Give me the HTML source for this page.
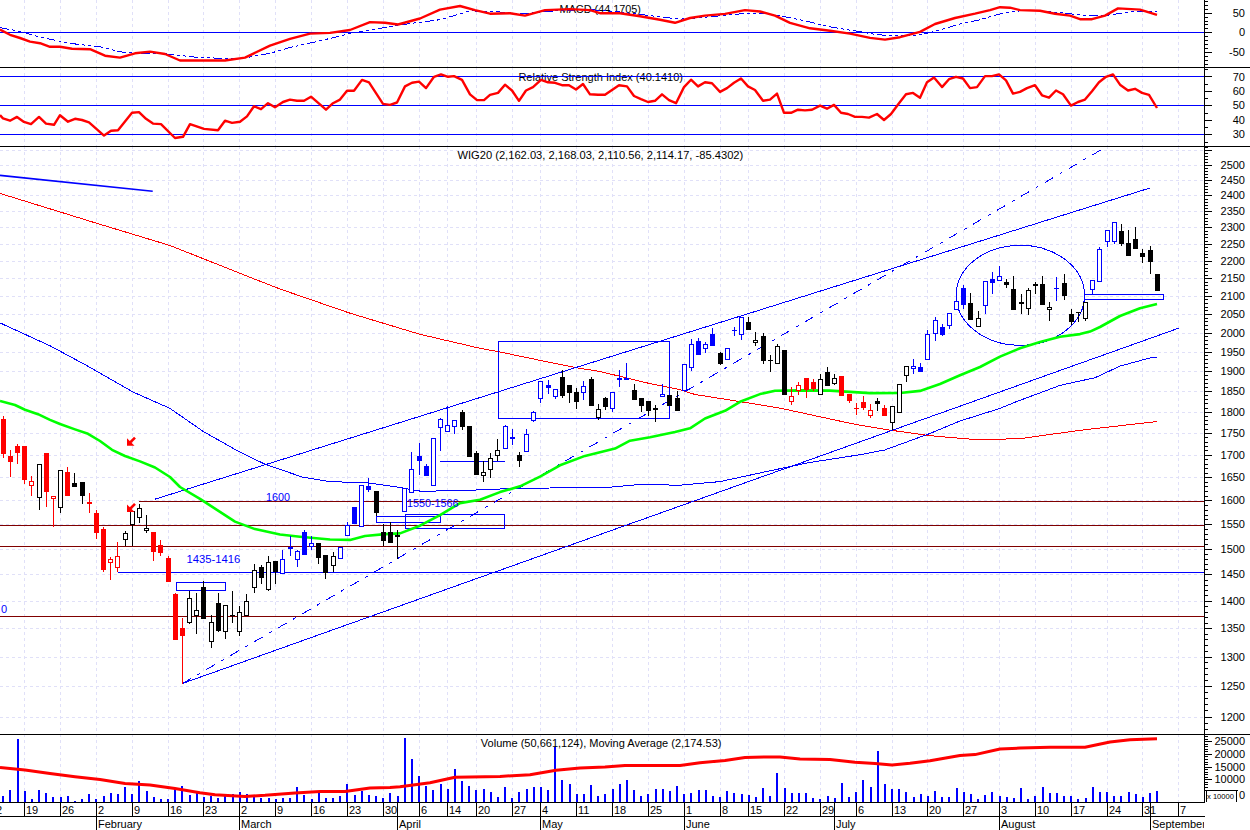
<!DOCTYPE html><html><head><meta charset="utf-8"><style>html,body{margin:0;padding:0;background:#fff;width:1250px;height:830px;overflow:hidden}svg{display:block}text{font-family:"Liberation Sans",sans-serif;font-size:11px;fill:#000}</style></head><body>
<svg width="1250" height="830" viewBox="0 0 1250 830">
<rect x="0" y="0" width="1250" height="830" fill="#fff"/>
<g shape-rendering="crispEdges" fill="none">
<path d="M24.5 0V67 M24.5 67V146 M24.5 146V734 M24.5 734V802 M60.5 0V67 M60.5 67V146 M60.5 146V734 M60.5 734V802 M96.5 0V67 M96.5 67V146 M96.5 146V734 M96.5 734V802 M132.5 0V67 M132.5 67V146 M132.5 146V734 M132.5 734V802 M168.5 0V67 M168.5 67V146 M168.5 146V734 M168.5 734V802 M203.5 0V67 M203.5 67V146 M203.5 146V734 M203.5 734V802 M239.5 0V67 M239.5 67V146 M239.5 146V734 M239.5 734V802 M275.5 0V67 M275.5 67V146 M275.5 146V734 M275.5 734V802 M311.5 0V67 M311.5 67V146 M311.5 146V734 M311.5 734V802 M347.5 0V67 M347.5 67V146 M347.5 146V734 M347.5 734V802 M383.5 0V67 M383.5 67V146 M383.5 146V734 M383.5 734V802 M419.5 0V67 M419.5 67V146 M419.5 146V734 M419.5 734V802 M447.5 0V67 M447.5 67V146 M447.5 146V734 M447.5 734V802 M476.5 0V67 M476.5 67V146 M476.5 146V734 M476.5 734V802 M512.5 0V67 M512.5 67V146 M512.5 146V734 M512.5 734V802 M540.5 0V67 M540.5 67V146 M540.5 146V734 M540.5 734V802 M576.5 0V67 M576.5 67V146 M576.5 146V734 M576.5 734V802 M612.5 0V67 M612.5 67V146 M612.5 146V734 M612.5 734V802 M648.5 0V67 M648.5 67V146 M648.5 146V734 M648.5 734V802 M684.5 0V67 M684.5 67V146 M684.5 146V734 M684.5 734V802 M720.5 0V67 M720.5 67V146 M720.5 146V734 M720.5 734V802 M748.5 0V67 M748.5 67V146 M748.5 146V734 M748.5 734V802 M784.5 0V67 M784.5 67V146 M784.5 146V734 M784.5 734V802 M820.5 0V67 M820.5 67V146 M820.5 146V734 M820.5 734V802 M856.5 0V67 M856.5 67V146 M856.5 146V734 M856.5 734V802 M892.5 0V67 M892.5 67V146 M892.5 146V734 M892.5 734V802 M927.5 0V67 M927.5 67V146 M927.5 146V734 M927.5 734V802 M963.5 0V67 M963.5 67V146 M963.5 146V734 M963.5 734V802 M999.5 0V67 M999.5 67V146 M999.5 146V734 M999.5 734V802 M1035.5 0V67 M1035.5 67V146 M1035.5 146V734 M1035.5 734V802 M1071.5 0V67 M1071.5 67V146 M1071.5 146V734 M1071.5 734V802 M1107.5 0V67 M1107.5 67V146 M1107.5 146V734 M1107.5 734V802 M1142.5 0V67 M1142.5 67V146 M1142.5 146V734 M1142.5 734V802 M1178.5 0V67 M1178.5 67V146 M1178.5 146V734 M1178.5 734V802" stroke="#e0e0f8" stroke-width="1" stroke-dasharray="3,3"/>
<path d="M0 717.5H1204 M0 686.5H1204 M0 657.5H1204 M0 628.5H1204 M0 601.5H1204 M0 574.5H1204 M0 549.5H1204 M0 524.5H1204 M0 500.5H1204 M0 477.5H1204 M0 455.5H1204 M0 433.5H1204 M0 412.5H1204 M0 391.5H1204 M0 371.5H1204 M0 352.5H1204 M0 333.5H1204 M0 314.5H1204 M0 296.5H1204 M0 278.5H1204 M0 261.5H1204 M0 244.5H1204 M0 227.5H1204 M0 211.5H1204 M0 195.5H1204 M0 180.5H1204 M0 165.5H1204 M0 150.5H1204" stroke="#e0e0f8" stroke-width="1" stroke-dasharray="3,3"/>
</g>
<text x="559.6" y="13" textLength="81.4" lengthAdjust="spacingAndGlyphs">MACD (44.1705)</text>
<text x="518.4" y="80.5" textLength="164.6" lengthAdjust="spacingAndGlyphs">Relative Strength Index (40.1410)</text>
<text x="457.4" y="159" textLength="285.9" lengthAdjust="spacingAndGlyphs">WIG20 (2,162.03, 2,168.03, 2,110.56, 2,114.17, -85.4302)</text>
<text x="480.8" y="747" textLength="240.7" lengthAdjust="spacingAndGlyphs">Volume (50,661,124), Moving Average (2,174.53)</text>
<path d="M0 32.5H1204" stroke="#0000ff" stroke-width="1" fill="none" shape-rendering="crispEdges"/>
<polyline points="0.0,27.6 22.0,31.8 33.0,35.4 48.0,38.8 72.0,43.6 100.0,46.8 125.0,52.8 160.0,53.3 200.0,57.6 240.0,58.8 270.0,53.3 290.0,47.5 320.0,40.8 350.0,33.6 380.0,28.3 410.0,23.5 440.0,19.7 460.0,13.9 470.0,10.8 500.0,12.0 520.0,13.9 545.0,11.5 570.0,10.1 590.0,9.6 620.0,12.0 650.0,15.6 680.0,19.2 710.0,16.8 740.0,13.9 770.0,13.9 800.0,19.7 830.0,26.9 860.0,31.7 870.0,33.6 890.0,36.0 905.0,35.5 920.0,34.8 940.0,30.0 960.0,24.0 980.0,19.7 1000.0,13.9 1020.0,10.8 1040.0,10.8 1060.0,12.5 1085.0,15.6 1105.0,15.6 1130.0,12.0 1157.0,11.5" fill="none" stroke="#0000ff" stroke-width="1" stroke-dasharray="9,3,3,3,3,3" shape-rendering="crispEdges"/>
<polyline points="0.0,29.6 10.0,34.8 20.0,38.0 30.0,41.6 40.0,43.2 50.0,46.8 60.0,46.8 72.0,48.7 90.0,49.2 105.0,55.7 120.0,57.6 135.0,53.3 150.0,51.6 165.0,54.0 180.0,60.5 225.0,60.5 245.0,57.6 270.0,45.6 290.0,38.9 310.0,33.6 330.0,32.9 350.0,30.0 370.0,22.1 385.0,22.8 398.0,24.5 420.0,18.5 440.0,9.6 460.0,6.0 475.0,10.1 490.0,13.7 510.0,13.2 525.0,15.6 545.0,10.1 570.0,9.1 590.0,10.1 600.0,13.2 620.0,13.2 640.0,16.3 660.0,19.7 675.0,22.8 690.0,18.0 705.0,15.6 725.0,13.9 745.0,10.1 760.0,11.5 775.0,15.6 790.0,22.8 810.0,28.3 830.0,30.7 850.0,33.6 870.0,37.9 885.0,39.6 900.0,37.2 920.0,31.9 935.0,24.0 955.0,18.0 975.0,13.7 990.0,10.1 1000.0,7.2 1010.0,7.7 1020.0,10.1 1040.0,10.8 1055.0,13.7 1070.0,15.6 1080.0,19.2 1092.0,19.2 1105.0,15.6 1118.0,8.4 1140.0,9.6 1157.0,14.9" fill="none" stroke="#ff0000" stroke-width="2.4" stroke-linejoin="round"/>
<path d="M0 76.5H1204M0 105.5H1204M0 134.5H1204" stroke="#0000ff" stroke-width="1" fill="none" shape-rendering="crispEdges"/>
<polyline points="0.0,115.2 3.0,118.3 10.0,120.7 17.0,116.9 24.0,121.9 31.0,124.1 39.0,116.9 46.0,123.6 54.0,124.8 60.0,115.2 68.0,121.7 75.0,118.8 82.0,120.0 89.0,122.4 104.0,135.6 111.0,130.8 118.0,130.3 132.0,112.8 139.0,112.1 146.0,118.8 153.0,123.6 161.0,124.1 175.0,138.0 183.0,136.8 190.0,124.1 204.0,128.9 218.0,130.3 225.0,120.7 232.0,122.9 240.0,121.7 247.0,116.4 254.0,106.3 261.0,109.2 268.0,103.2 275.0,107.3 283.0,102.0 290.0,99.6 297.0,100.8 304.0,100.8 311.0,96.7 326.0,109.7 333.0,103.2 340.0,99.6 347.0,90.7 354.0,90.7 362.0,79.9 369.0,82.3 383.0,103.9 390.0,104.9 397.0,102.5 405.0,86.4 412.0,82.8 419.0,81.6 426.0,88.1 434.0,76.8 441.0,74.4 448.0,76.8 454.0,76.1 462.0,79.9 470.0,94.3 477.0,100.1 484.0,100.1 490.0,94.8 498.0,92.9 505.0,84.7 512.0,90.5 519.0,100.8 526.0,90.5 533.0,87.1 541.0,79.9 548.0,82.3 555.0,82.8 562.0,85.2 569.0,85.2 576.0,89.5 583.0,84.0 590.0,94.3 598.0,94.8 605.0,94.8 612.0,90.0 619.0,85.2 627.0,86.4 634.0,96.0 641.0,99.1 648.0,102.0 655.0,100.8 662.0,94.3 669.0,100.1 676.0,103.2 684.0,87.1 691.0,79.7 698.0,86.4 705.0,82.3 712.0,83.3 720.0,91.9 727.0,88.1 734.0,82.8 741.0,78.5 748.0,86.4 755.0,90.0 763.0,100.8 770.0,99.6 777.0,93.6 784.0,112.8 791.0,112.8 798.0,109.7 805.0,110.4 812.0,109.7 820.0,105.6 827.0,108.7 834.0,104.9 841.0,112.8 848.0,114.0 855.0,116.9 862.0,116.9 869.0,117.6 877.0,114.0 884.0,120.0 891.0,114.0 899.0,103.2 906.0,94.3 913.0,92.9 920.0,97.7 927.0,82.3 934.0,77.5 942.0,87.1 949.0,79.2 956.0,76.8 963.0,78.5 970.0,88.1 977.0,87.1 985.0,76.1 992.0,76.1 999.0,74.4 1006.0,80.4 1013.0,93.6 1020.0,91.9 1027.0,88.1 1035.0,85.2 1042.0,95.3 1049.0,97.7 1056.0,90.5 1063.0,94.3 1071.0,105.6 1078.0,102.0 1085.0,99.6 1092.0,91.2 1099.0,82.3 1106.0,76.8 1113.0,74.4 1120.0,84.7 1128.0,90.5 1135.0,88.8 1142.0,92.9 1149.0,94.8 1157.0,108.0" fill="none" stroke="#ff0000" stroke-width="2.4" stroke-linejoin="round"/>
<path d="M139 501.5H1204M0 525.5H1204M0 546.5H1204M0 616.5H1204" stroke="#800000" stroke-width="1" fill="none" shape-rendering="crispEdges"/>
<path d="M118 572.5H1204" stroke="#0000ff" stroke-width="1" fill="none" shape-rendering="crispEdges"/>
<polyline points="0.0,193.4 100.0,224.3 170.0,245.5 200.0,257.4 250.0,277.3 280.0,289.0 350.0,313.2 420.0,334.3 480.0,348.3 497.0,351.4 560.0,364.5 578.0,368.0 600.0,371.5 650.0,383.6 680.0,389.6 695.0,394.5 730.0,400.0 780.0,408.1 850.0,423.3 860.0,425.2 890.0,430.1 930.0,435.7 970.0,439.1 990.0,439.6 1022.0,438.4 1080.0,430.3 1157.0,421.5" fill="none" stroke="#ff0000" stroke-width="1" shape-rendering="crispEdges"/>
<polyline points="0.0,322.9 50.0,345.8 85.0,364.6 133.0,392.0 170.0,408.4 203.0,431.3 235.0,449.4 265.0,464.3 302.8,477.2 330.0,481.6 368.0,482.9 400.0,487.5 420.0,491.1 455.0,490.9 500.0,489.0 550.0,488.0 605.0,487.6 640.0,484.5 680.0,485.2 720.0,481.6 770.0,470.8 810.0,462.4 860.0,454.7 884.7,450.0 930.0,433.5 960.0,421.0 1000.0,408.4 1015.0,402.2 1060.0,385.4 1095.0,377.7 1120.0,366.1 1150.0,357.9 1157.0,357.5" fill="none" stroke="#0000ff" stroke-width="1" shape-rendering="crispEdges"/>
<polyline points="0,175.4 152.7,191.3" fill="none" stroke="#0000ff" stroke-width="1.6"/>
<line x1="154.6" y1="499.3" x2="1149.6" y2="188.1" stroke="#0000ff" stroke-width="1" shape-rendering="crispEdges"/>
<line x1="182.4" y1="683.5" x2="1178.6" y2="328.2" stroke="#0000ff" stroke-width="1" shape-rendering="crispEdges"/>
<line x1="182.4" y1="683.5" x2="1106" y2="147" stroke="#0000ff" stroke-width="1" stroke-dasharray="9.7,7.7,3,7.3" shape-rendering="crispEdges"/>
<line x1="440" y1="461.5" x2="505" y2="461.5" stroke="#0000ff" stroke-width="1" shape-rendering="crispEdges"/>
<g fill="none" stroke="#0000ff" stroke-width="1" shape-rendering="crispEdges">
<rect x="498.5" y="341.5" width="171" height="77"/>
<rect x="176.5" y="582.5" width="49" height="8"/>
<rect x="376.5" y="516.5" width="64" height="6"/>
<rect x="405.5" y="514.5" width="99" height="14"/>
<rect x="1084.5" y="294.5" width="79" height="5"/>
<ellipse cx="1020.3" cy="295.3" rx="64.2" ry="50"/>
</g>
<polyline points="0.0,400.9 15.0,405.0 25.0,409.7 38.0,414.2 50.0,419.9 60.0,424.0 75.0,429.4 88.0,433.8 100.0,441.0 112.0,449.8 125.0,456.0 140.0,461.4 155.0,467.5 170.0,477.0 180.0,487.0 200.0,498.9 215.0,508.6 235.0,521.6 255.0,529.1 280.0,534.5 300.0,536.7 330.0,539.5 350.0,539.9 365.0,536.0 385.0,534.1 400.0,533.4 420.0,525.7 440.0,515.1 460.0,503.1 480.0,499.8 500.0,492.1 520.0,486.3 540.0,476.7 560.0,465.3 585.0,455.9 615.0,448.6 630.0,440.7 650.0,437.2 675.0,432.0 690.0,428.3 705.0,418.5 725.0,410.8 740.0,401.8 760.0,394.1 775.0,390.8 800.0,390.4 830.0,390.6 870.0,393.1 900.0,393.0 920.0,390.9 940.0,384.0 960.0,375.3 980.0,367.0 1000.0,356.6 1020.0,348.2 1040.0,342.0 1060.0,336.8 1080.0,334.1 1090.0,331.6 1100.0,327.0 1120.0,316.0 1140.0,308.3 1157.0,304.1" fill="none" stroke="#00ff00" stroke-width="2.6" stroke-linejoin="round"/>
<g shape-rendering="crispEdges">
<rect x="3" y="416" width="1" height="42" fill="#ff0000"/>
<rect x="1" y="419" width="5" height="35" fill="#ff0000"/>
<rect x="10" y="450" width="1" height="27" fill="#ff0000"/>
<rect x="8" y="456" width="5" height="6" fill="#ff0000"/>
<rect x="17" y="444" width="1" height="20" fill="#ff0000"/>
<rect x="15" y="446" width="5" height="7" fill="#ff0000"/>
<rect x="24" y="446" width="1" height="38" fill="#ff0000"/>
<rect x="22" y="446" width="5" height="34" fill="#ff0000"/>
<rect x="31" y="476" width="1" height="20" fill="#ff0000"/>
<rect x="29" y="481" width="5" height="5" fill="#ff0000"/>
<rect x="30" y="482" width="3" height="3" fill="#fff"/>
<rect x="39" y="464" width="1" height="46" fill="#000000"/>
<rect x="37" y="464" width="5" height="34" fill="#000000"/>
<rect x="38" y="465" width="3" height="32" fill="#fff"/>
<rect x="46" y="453" width="1" height="54" fill="#ff0000"/>
<rect x="44" y="453" width="5" height="39" fill="#ff0000"/>
<rect x="53" y="496" width="1" height="31" fill="#ff0000"/>
<rect x="51" y="496" width="5" height="3" fill="#ff0000"/>
<rect x="52" y="497" width="3" height="1" fill="#fff"/>
<rect x="60" y="470" width="1" height="43" fill="#000000"/>
<rect x="58" y="470" width="5" height="38" fill="#000000"/>
<rect x="59" y="471" width="3" height="36" fill="#fff"/>
<rect x="67" y="467" width="1" height="29" fill="#ff0000"/>
<rect x="65" y="472" width="5" height="24" fill="#ff0000"/>
<rect x="74" y="473" width="1" height="14" fill="#000000"/>
<rect x="72" y="483" width="5" height="4" fill="#000000"/>
<rect x="82" y="482" width="1" height="22" fill="#000000"/>
<rect x="80" y="482" width="5" height="14" fill="#000000"/>
<rect x="89" y="493" width="1" height="20" fill="#ff0000"/>
<rect x="87" y="502" width="5" height="2" fill="#ff0000"/>
<rect x="96" y="510" width="1" height="29" fill="#ff0000"/>
<rect x="94" y="513" width="5" height="20" fill="#ff0000"/>
<rect x="103" y="527" width="1" height="45" fill="#ff0000"/>
<rect x="101" y="529" width="5" height="41" fill="#ff0000"/>
<rect x="110" y="557" width="1" height="23" fill="#ff0000"/>
<rect x="108" y="559" width="5" height="4" fill="#ff0000"/>
<rect x="109" y="560" width="3" height="2" fill="#fff"/>
<rect x="117" y="542" width="1" height="30" fill="#ff0000"/>
<rect x="115" y="556" width="5" height="12" fill="#ff0000"/>
<rect x="116" y="557" width="3" height="10" fill="#fff"/>
<rect x="125" y="531" width="1" height="15" fill="#000000"/>
<rect x="123" y="533" width="5" height="7" fill="#000000"/>
<rect x="124" y="534" width="3" height="5" fill="#fff"/>
<rect x="132" y="511" width="1" height="35" fill="#000000"/>
<rect x="130" y="511" width="5" height="14" fill="#000000"/>
<rect x="131" y="512" width="3" height="12" fill="#fff"/>
<rect x="139" y="504" width="1" height="19" fill="#000000"/>
<rect x="137" y="508" width="5" height="10" fill="#000000"/>
<rect x="138" y="509" width="3" height="8" fill="#fff"/>
<rect x="146" y="515" width="1" height="18" fill="#000000"/>
<rect x="144" y="528" width="5" height="3" fill="#000000"/>
<rect x="145" y="529" width="3" height="1" fill="#fff"/>
<rect x="153" y="532" width="1" height="29" fill="#ff0000"/>
<rect x="151" y="532" width="5" height="20" fill="#ff0000"/>
<rect x="160" y="540" width="1" height="16" fill="#ff0000"/>
<rect x="158" y="545" width="5" height="8" fill="#ff0000"/>
<rect x="168" y="556" width="1" height="26" fill="#ff0000"/>
<rect x="166" y="558" width="5" height="24" fill="#ff0000"/>
<rect x="175" y="593" width="1" height="47" fill="#ff0000"/>
<rect x="173" y="594" width="5" height="46" fill="#ff0000"/>
<rect x="182" y="618" width="1" height="66" fill="#ff0000"/>
<rect x="180" y="628" width="5" height="8" fill="#ff0000"/>
<rect x="189" y="591" width="1" height="33" fill="#000000"/>
<rect x="187" y="598" width="5" height="25" fill="#000000"/>
<rect x="188" y="599" width="3" height="23" fill="#fff"/>
<rect x="196" y="593" width="1" height="41" fill="#000000"/>
<rect x="194" y="610" width="5" height="6" fill="#000000"/>
<rect x="195" y="611" width="3" height="4" fill="#fff"/>
<rect x="203" y="581" width="1" height="38" fill="#000000"/>
<rect x="201" y="587" width="5" height="32" fill="#000000"/>
<rect x="211" y="615" width="1" height="33" fill="#000000"/>
<rect x="209" y="622" width="5" height="20" fill="#000000"/>
<rect x="210" y="623" width="3" height="18" fill="#fff"/>
<rect x="218" y="593" width="1" height="39" fill="#000000"/>
<rect x="216" y="603" width="5" height="28" fill="#000000"/>
<rect x="225" y="605" width="1" height="34" fill="#000000"/>
<rect x="223" y="605" width="5" height="27" fill="#000000"/>
<rect x="224" y="606" width="3" height="25" fill="#fff"/>
<rect x="232" y="591" width="1" height="32" fill="#000000"/>
<rect x="230" y="615" width="5" height="1" fill="#000000"/>
<rect x="239" y="606" width="1" height="30" fill="#000000"/>
<rect x="237" y="612" width="5" height="20" fill="#000000"/>
<rect x="238" y="613" width="3" height="18" fill="#fff"/>
<rect x="246" y="594" width="1" height="22" fill="#000000"/>
<rect x="244" y="601" width="5" height="15" fill="#000000"/>
<rect x="245" y="602" width="3" height="13" fill="#fff"/>
<rect x="254" y="564" width="1" height="29" fill="#000000"/>
<rect x="252" y="570" width="5" height="18" fill="#000000"/>
<rect x="253" y="571" width="3" height="16" fill="#fff"/>
<rect x="261" y="565" width="1" height="19" fill="#000000"/>
<rect x="259" y="567" width="5" height="11" fill="#000000"/>
<rect x="268" y="556" width="1" height="35" fill="#000000"/>
<rect x="266" y="562" width="5" height="28" fill="#000000"/>
<rect x="267" y="563" width="3" height="26" fill="#fff"/>
<rect x="275" y="561" width="1" height="23" fill="#000000"/>
<rect x="273" y="561" width="5" height="11" fill="#000000"/>
<rect x="282" y="550" width="1" height="24" fill="#0000ff"/>
<rect x="280" y="559" width="5" height="15" fill="#0000ff"/>
<rect x="281" y="560" width="3" height="13" fill="#fff"/>
<rect x="290" y="536" width="1" height="20" fill="#0000ff"/>
<rect x="288" y="547" width="5" height="2" fill="#0000ff"/>
<rect x="297" y="550" width="1" height="17" fill="#0000ff"/>
<rect x="295" y="551" width="5" height="9" fill="#0000ff"/>
<rect x="296" y="552" width="3" height="7" fill="#fff"/>
<rect x="304" y="530" width="1" height="25" fill="#0000ff"/>
<rect x="302" y="532" width="5" height="23" fill="#0000ff"/>
<rect x="311" y="536" width="1" height="14" fill="#0000ff"/>
<rect x="309" y="543" width="5" height="4" fill="#0000ff"/>
<rect x="310" y="544" width="3" height="2" fill="#fff"/>
<rect x="318" y="543" width="1" height="21" fill="#000000"/>
<rect x="316" y="543" width="5" height="15" fill="#000000"/>
<rect x="325" y="555" width="1" height="24" fill="#000000"/>
<rect x="323" y="555" width="5" height="18" fill="#000000"/>
<rect x="333" y="552" width="1" height="20" fill="#000000"/>
<rect x="331" y="556" width="5" height="10" fill="#000000"/>
<rect x="332" y="557" width="3" height="8" fill="#fff"/>
<rect x="340" y="547" width="1" height="12" fill="#0000ff"/>
<rect x="338" y="547" width="5" height="12" fill="#0000ff"/>
<rect x="339" y="548" width="3" height="10" fill="#fff"/>
<rect x="347" y="522" width="1" height="14" fill="#0000ff"/>
<rect x="345" y="525" width="5" height="11" fill="#0000ff"/>
<rect x="346" y="526" width="3" height="9" fill="#fff"/>
<rect x="354" y="507" width="1" height="17" fill="#0000ff"/>
<rect x="352" y="507" width="5" height="17" fill="#0000ff"/>
<rect x="361" y="485" width="1" height="42" fill="#0000ff"/>
<rect x="359" y="485" width="5" height="42" fill="#0000ff"/>
<rect x="360" y="486" width="3" height="40" fill="#fff"/>
<rect x="368" y="478" width="1" height="14" fill="#0000ff"/>
<rect x="366" y="486" width="5" height="4" fill="#0000ff"/>
<rect x="376" y="491" width="1" height="25" fill="#000000"/>
<rect x="374" y="491" width="5" height="22" fill="#000000"/>
<rect x="383" y="524" width="1" height="22" fill="#000000"/>
<rect x="381" y="532" width="5" height="9" fill="#000000"/>
<rect x="390" y="522" width="1" height="21" fill="#000000"/>
<rect x="388" y="532" width="5" height="11" fill="#000000"/>
<rect x="397" y="530" width="1" height="29" fill="#000000"/>
<rect x="395" y="535" width="5" height="2" fill="#000000"/>
<rect x="404" y="488" width="1" height="24" fill="#0000ff"/>
<rect x="402" y="488" width="5" height="24" fill="#0000ff"/>
<rect x="403" y="489" width="3" height="22" fill="#fff"/>
<rect x="411" y="452" width="1" height="41" fill="#0000ff"/>
<rect x="409" y="469" width="5" height="24" fill="#0000ff"/>
<rect x="410" y="470" width="3" height="22" fill="#fff"/>
<rect x="419" y="443" width="1" height="32" fill="#0000ff"/>
<rect x="417" y="456" width="5" height="5" fill="#0000ff"/>
<rect x="426" y="464" width="1" height="12" fill="#0000ff"/>
<rect x="424" y="466" width="5" height="10" fill="#0000ff"/>
<rect x="433" y="438" width="1" height="48" fill="#0000ff"/>
<rect x="431" y="438" width="5" height="48" fill="#0000ff"/>
<rect x="432" y="439" width="3" height="46" fill="#fff"/>
<rect x="440" y="418" width="1" height="33" fill="#0000ff"/>
<rect x="438" y="419" width="5" height="9" fill="#0000ff"/>
<rect x="439" y="420" width="3" height="7" fill="#fff"/>
<rect x="447" y="406" width="1" height="26" fill="#0000ff"/>
<rect x="445" y="425" width="5" height="7" fill="#0000ff"/>
<rect x="446" y="426" width="3" height="5" fill="#fff"/>
<rect x="454" y="420" width="1" height="14" fill="#0000ff"/>
<rect x="452" y="420" width="5" height="7" fill="#0000ff"/>
<rect x="453" y="421" width="3" height="5" fill="#fff"/>
<rect x="462" y="410" width="1" height="20" fill="#000000"/>
<rect x="460" y="412" width="5" height="15" fill="#000000"/>
<rect x="469" y="426" width="1" height="31" fill="#000000"/>
<rect x="467" y="426" width="5" height="31" fill="#000000"/>
<rect x="476" y="451" width="1" height="24" fill="#000000"/>
<rect x="474" y="453" width="5" height="22" fill="#000000"/>
<rect x="483" y="461" width="1" height="21" fill="#000000"/>
<rect x="481" y="472" width="5" height="4" fill="#000000"/>
<rect x="482" y="473" width="3" height="2" fill="#fff"/>
<rect x="490" y="453" width="1" height="25" fill="#000000"/>
<rect x="488" y="458" width="5" height="12" fill="#000000"/>
<rect x="489" y="459" width="3" height="10" fill="#fff"/>
<rect x="497" y="439" width="1" height="22" fill="#000000"/>
<rect x="495" y="450" width="5" height="6" fill="#000000"/>
<rect x="496" y="451" width="3" height="4" fill="#fff"/>
<rect x="505" y="425" width="1" height="24" fill="#0000ff"/>
<rect x="503" y="426" width="5" height="23" fill="#0000ff"/>
<rect x="504" y="427" width="3" height="21" fill="#fff"/>
<rect x="512" y="429" width="1" height="16" fill="#0000ff"/>
<rect x="510" y="437" width="5" height="2" fill="#0000ff"/>
<rect x="519" y="452" width="1" height="15" fill="#000000"/>
<rect x="517" y="455" width="5" height="6" fill="#000000"/>
<rect x="526" y="429" width="1" height="23" fill="#0000ff"/>
<rect x="524" y="434" width="5" height="18" fill="#0000ff"/>
<rect x="525" y="435" width="3" height="16" fill="#fff"/>
<rect x="533" y="411" width="1" height="11" fill="#0000ff"/>
<rect x="531" y="412" width="5" height="9" fill="#0000ff"/>
<rect x="532" y="413" width="3" height="7" fill="#fff"/>
<rect x="540" y="381" width="1" height="22" fill="#0000ff"/>
<rect x="538" y="381" width="5" height="18" fill="#0000ff"/>
<rect x="539" y="382" width="3" height="16" fill="#fff"/>
<rect x="548" y="380" width="1" height="14" fill="#0000ff"/>
<rect x="546" y="385" width="5" height="3" fill="#0000ff"/>
<rect x="555" y="389" width="1" height="10" fill="#0000ff"/>
<rect x="553" y="389" width="5" height="8" fill="#0000ff"/>
<rect x="554" y="390" width="3" height="6" fill="#fff"/>
<rect x="562" y="370" width="1" height="28" fill="#000000"/>
<rect x="560" y="377" width="5" height="19" fill="#000000"/>
<rect x="569" y="385" width="1" height="18" fill="#000000"/>
<rect x="567" y="385" width="5" height="8" fill="#000000"/>
<rect x="576" y="388" width="1" height="21" fill="#000000"/>
<rect x="574" y="392" width="5" height="10" fill="#000000"/>
<rect x="583" y="381" width="1" height="19" fill="#0000ff"/>
<rect x="581" y="386" width="5" height="7" fill="#0000ff"/>
<rect x="582" y="387" width="3" height="5" fill="#fff"/>
<rect x="591" y="377" width="1" height="29" fill="#000000"/>
<rect x="589" y="379" width="5" height="27" fill="#000000"/>
<rect x="598" y="404" width="1" height="16" fill="#000000"/>
<rect x="596" y="409" width="5" height="9" fill="#000000"/>
<rect x="597" y="410" width="3" height="7" fill="#fff"/>
<rect x="605" y="397" width="1" height="13" fill="#000000"/>
<rect x="603" y="398" width="5" height="9" fill="#000000"/>
<rect x="612" y="392" width="1" height="20" fill="#0000ff"/>
<rect x="610" y="392" width="5" height="17" fill="#0000ff"/>
<rect x="611" y="393" width="3" height="15" fill="#fff"/>
<rect x="619" y="370" width="1" height="17" fill="#0000ff"/>
<rect x="617" y="378" width="5" height="2" fill="#0000ff"/>
<rect x="626" y="363" width="1" height="17" fill="#0000ff"/>
<rect x="624" y="378" width="5" height="2" fill="#0000ff"/>
<rect x="634" y="384" width="1" height="16" fill="#000000"/>
<rect x="632" y="390" width="5" height="10" fill="#000000"/>
<rect x="641" y="398" width="1" height="14" fill="#000000"/>
<rect x="639" y="398" width="5" height="8" fill="#000000"/>
<rect x="648" y="401" width="1" height="15" fill="#000000"/>
<rect x="646" y="401" width="5" height="10" fill="#000000"/>
<rect x="655" y="405" width="1" height="17" fill="#000000"/>
<rect x="653" y="408" width="5" height="2" fill="#000000"/>
<rect x="662" y="384" width="1" height="13" fill="#0000ff"/>
<rect x="660" y="394" width="5" height="3" fill="#0000ff"/>
<rect x="661" y="395" width="3" height="1" fill="#fff"/>
<rect x="669" y="395" width="1" height="11" fill="#000000"/>
<rect x="667" y="395" width="5" height="11" fill="#000000"/>
<rect x="677" y="391" width="1" height="20" fill="#000000"/>
<rect x="675" y="398" width="5" height="13" fill="#000000"/>
<rect x="684" y="364" width="1" height="27" fill="#0000ff"/>
<rect x="682" y="364" width="5" height="27" fill="#0000ff"/>
<rect x="683" y="365" width="3" height="25" fill="#fff"/>
<rect x="691" y="339" width="1" height="32" fill="#0000ff"/>
<rect x="689" y="344" width="5" height="24" fill="#0000ff"/>
<rect x="690" y="345" width="3" height="22" fill="#fff"/>
<rect x="698" y="338" width="1" height="17" fill="#0000ff"/>
<rect x="696" y="341" width="5" height="14" fill="#0000ff"/>
<rect x="705" y="342" width="1" height="11" fill="#0000ff"/>
<rect x="703" y="344" width="5" height="5" fill="#0000ff"/>
<rect x="704" y="345" width="3" height="3" fill="#fff"/>
<rect x="712" y="328" width="1" height="18" fill="#0000ff"/>
<rect x="710" y="334" width="5" height="12" fill="#0000ff"/>
<rect x="720" y="352" width="1" height="13" fill="#000000"/>
<rect x="718" y="353" width="5" height="11" fill="#000000"/>
<rect x="727" y="348" width="1" height="12" fill="#0000ff"/>
<rect x="725" y="348" width="5" height="12" fill="#0000ff"/>
<rect x="726" y="349" width="3" height="10" fill="#fff"/>
<rect x="734" y="327" width="1" height="9" fill="#0000ff"/>
<rect x="732" y="330" width="5" height="1" fill="#0000ff"/>
<rect x="741" y="317" width="1" height="23" fill="#0000ff"/>
<rect x="739" y="317" width="5" height="18" fill="#0000ff"/>
<rect x="740" y="318" width="3" height="16" fill="#fff"/>
<rect x="748" y="317" width="1" height="13" fill="#000000"/>
<rect x="746" y="322" width="5" height="8" fill="#000000"/>
<rect x="755" y="332" width="1" height="14" fill="#000000"/>
<rect x="753" y="340" width="5" height="3" fill="#000000"/>
<rect x="754" y="341" width="3" height="1" fill="#fff"/>
<rect x="763" y="333" width="1" height="31" fill="#000000"/>
<rect x="761" y="336" width="5" height="25" fill="#000000"/>
<rect x="770" y="355" width="1" height="17" fill="#000000"/>
<rect x="768" y="360" width="5" height="1" fill="#000000"/>
<rect x="777" y="344" width="1" height="20" fill="#000000"/>
<rect x="775" y="346" width="5" height="18" fill="#000000"/>
<rect x="776" y="347" width="3" height="16" fill="#fff"/>
<rect x="784" y="350" width="1" height="45" fill="#000000"/>
<rect x="782" y="350" width="5" height="45" fill="#000000"/>
<rect x="791" y="387" width="1" height="18" fill="#ff0000"/>
<rect x="789" y="396" width="5" height="6" fill="#ff0000"/>
<rect x="790" y="397" width="3" height="4" fill="#fff"/>
<rect x="798" y="382" width="1" height="13" fill="#ff0000"/>
<rect x="796" y="385" width="5" height="6" fill="#ff0000"/>
<rect x="797" y="386" width="3" height="4" fill="#fff"/>
<rect x="806" y="378" width="1" height="20" fill="#ff0000"/>
<rect x="804" y="378" width="5" height="12" fill="#ff0000"/>
<rect x="813" y="379" width="1" height="12" fill="#ff0000"/>
<rect x="811" y="382" width="5" height="7" fill="#ff0000"/>
<rect x="820" y="374" width="1" height="21" fill="#000000"/>
<rect x="818" y="379" width="5" height="16" fill="#000000"/>
<rect x="819" y="380" width="3" height="14" fill="#fff"/>
<rect x="827" y="367" width="1" height="19" fill="#000000"/>
<rect x="825" y="372" width="5" height="14" fill="#000000"/>
<rect x="834" y="374" width="1" height="11" fill="#000000"/>
<rect x="832" y="378" width="5" height="6" fill="#000000"/>
<rect x="833" y="379" width="3" height="4" fill="#fff"/>
<rect x="841" y="376" width="1" height="20" fill="#ff0000"/>
<rect x="839" y="376" width="5" height="20" fill="#ff0000"/>
<rect x="849" y="394" width="1" height="9" fill="#ff0000"/>
<rect x="847" y="394" width="5" height="7" fill="#ff0000"/>
<rect x="856" y="403" width="1" height="12" fill="#ff0000"/>
<rect x="854" y="408" width="5" height="1" fill="#ff0000"/>
<rect x="863" y="396" width="1" height="14" fill="#ff0000"/>
<rect x="861" y="402" width="5" height="6" fill="#ff0000"/>
<rect x="870" y="404" width="1" height="14" fill="#ff0000"/>
<rect x="868" y="410" width="5" height="6" fill="#ff0000"/>
<rect x="869" y="411" width="3" height="4" fill="#fff"/>
<rect x="877" y="398" width="1" height="13" fill="#000000"/>
<rect x="875" y="401" width="5" height="3" fill="#000000"/>
<rect x="884" y="405" width="1" height="11" fill="#ff0000"/>
<rect x="882" y="408" width="5" height="8" fill="#ff0000"/>
<rect x="892" y="406" width="1" height="24" fill="#000000"/>
<rect x="890" y="406" width="5" height="17" fill="#000000"/>
<rect x="891" y="407" width="3" height="15" fill="#fff"/>
<rect x="899" y="384" width="1" height="29" fill="#000000"/>
<rect x="897" y="384" width="5" height="29" fill="#000000"/>
<rect x="898" y="385" width="3" height="27" fill="#fff"/>
<rect x="906" y="366" width="1" height="16" fill="#000000"/>
<rect x="904" y="366" width="5" height="10" fill="#000000"/>
<rect x="905" y="367" width="3" height="8" fill="#fff"/>
<rect x="913" y="359" width="1" height="15" fill="#0000ff"/>
<rect x="911" y="366" width="5" height="3" fill="#0000ff"/>
<rect x="912" y="367" width="3" height="1" fill="#fff"/>
<rect x="920" y="363" width="1" height="9" fill="#0000ff"/>
<rect x="918" y="367" width="5" height="5" fill="#0000ff"/>
<rect x="927" y="330" width="1" height="30" fill="#0000ff"/>
<rect x="925" y="334" width="5" height="26" fill="#0000ff"/>
<rect x="926" y="335" width="3" height="24" fill="#fff"/>
<rect x="935" y="317" width="1" height="24" fill="#0000ff"/>
<rect x="933" y="320" width="5" height="14" fill="#0000ff"/>
<rect x="934" y="321" width="3" height="12" fill="#fff"/>
<rect x="942" y="324" width="1" height="12" fill="#0000ff"/>
<rect x="940" y="327" width="5" height="8" fill="#0000ff"/>
<rect x="949" y="313" width="1" height="16" fill="#0000ff"/>
<rect x="947" y="313" width="5" height="13" fill="#0000ff"/>
<rect x="948" y="314" width="3" height="11" fill="#fff"/>
<rect x="956" y="301" width="1" height="9" fill="#0000ff"/>
<rect x="954" y="301" width="5" height="9" fill="#0000ff"/>
<rect x="955" y="302" width="3" height="7" fill="#fff"/>
<rect x="963" y="285" width="1" height="24" fill="#0000ff"/>
<rect x="961" y="288" width="5" height="17" fill="#0000ff"/>
<rect x="970" y="293" width="1" height="27" fill="#000000"/>
<rect x="968" y="303" width="5" height="17" fill="#000000"/>
<rect x="978" y="311" width="1" height="16" fill="#000000"/>
<rect x="976" y="318" width="5" height="9" fill="#000000"/>
<rect x="977" y="319" width="3" height="7" fill="#fff"/>
<rect x="985" y="281" width="1" height="33" fill="#0000ff"/>
<rect x="983" y="281" width="5" height="25" fill="#0000ff"/>
<rect x="984" y="282" width="3" height="23" fill="#fff"/>
<rect x="992" y="272" width="1" height="22" fill="#0000ff"/>
<rect x="990" y="279" width="5" height="4" fill="#0000ff"/>
<rect x="999" y="266" width="1" height="15" fill="#0000ff"/>
<rect x="997" y="276" width="5" height="5" fill="#0000ff"/>
<rect x="998" y="277" width="3" height="3" fill="#fff"/>
<rect x="1006" y="279" width="1" height="9" fill="#000000"/>
<rect x="1004" y="282" width="5" height="3" fill="#000000"/>
<rect x="1013" y="276" width="1" height="34" fill="#000000"/>
<rect x="1011" y="289" width="5" height="21" fill="#000000"/>
<rect x="1021" y="294" width="1" height="20" fill="#000000"/>
<rect x="1019" y="302" width="5" height="2" fill="#000000"/>
<rect x="1028" y="288" width="1" height="27" fill="#000000"/>
<rect x="1026" y="290" width="5" height="19" fill="#000000"/>
<rect x="1027" y="291" width="3" height="17" fill="#fff"/>
<rect x="1035" y="282" width="1" height="12" fill="#000000"/>
<rect x="1033" y="284" width="5" height="2" fill="#000000"/>
<rect x="1042" y="276" width="1" height="29" fill="#000000"/>
<rect x="1040" y="284" width="5" height="21" fill="#000000"/>
<rect x="1049" y="302" width="1" height="19" fill="#000000"/>
<rect x="1047" y="307" width="5" height="3" fill="#000000"/>
<rect x="1048" y="308" width="3" height="1" fill="#fff"/>
<rect x="1056" y="277" width="1" height="24" fill="#0000ff"/>
<rect x="1054" y="288" width="5" height="1" fill="#0000ff"/>
<rect x="1064" y="274" width="1" height="26" fill="#000000"/>
<rect x="1062" y="283" width="5" height="13" fill="#000000"/>
<rect x="1071" y="309" width="1" height="16" fill="#000000"/>
<rect x="1069" y="314" width="5" height="8" fill="#000000"/>
<rect x="1078" y="312" width="1" height="10" fill="#000000"/>
<rect x="1076" y="312" width="5" height="1" fill="#000000"/>
<rect x="1085" y="302" width="1" height="19" fill="#000000"/>
<rect x="1083" y="302" width="5" height="17" fill="#000000"/>
<rect x="1084" y="303" width="3" height="15" fill="#fff"/>
<rect x="1092" y="280" width="1" height="14" fill="#0000ff"/>
<rect x="1090" y="280" width="5" height="10" fill="#0000ff"/>
<rect x="1091" y="281" width="3" height="8" fill="#fff"/>
<rect x="1099" y="247" width="1" height="35" fill="#0000ff"/>
<rect x="1097" y="249" width="5" height="33" fill="#0000ff"/>
<rect x="1098" y="250" width="3" height="31" fill="#fff"/>
<rect x="1107" y="230" width="1" height="17" fill="#0000ff"/>
<rect x="1105" y="230" width="5" height="12" fill="#0000ff"/>
<rect x="1106" y="231" width="3" height="10" fill="#fff"/>
<rect x="1114" y="222" width="1" height="22" fill="#0000ff"/>
<rect x="1112" y="222" width="5" height="20" fill="#0000ff"/>
<rect x="1113" y="223" width="3" height="18" fill="#fff"/>
<rect x="1121" y="224" width="1" height="22" fill="#000000"/>
<rect x="1119" y="231" width="5" height="13" fill="#000000"/>
<rect x="1128" y="230" width="1" height="26" fill="#000000"/>
<rect x="1126" y="243" width="5" height="13" fill="#000000"/>
<rect x="1135" y="227" width="1" height="22" fill="#000000"/>
<rect x="1133" y="239" width="5" height="10" fill="#000000"/>
<rect x="1142" y="249" width="1" height="14" fill="#000000"/>
<rect x="1140" y="253" width="5" height="4" fill="#000000"/>
<rect x="1150" y="246" width="1" height="28" fill="#000000"/>
<rect x="1148" y="250" width="5" height="12" fill="#000000"/>
<rect x="1157" y="274" width="1" height="17" fill="#000000"/>
<rect x="1155" y="274" width="5" height="17" fill="#000000"/>
</g>
<g shape-rendering="crispEdges" fill="#0000ff">
<rect x="2" y="796" width="2" height="6"/>
<rect x="9" y="790" width="2" height="12"/>
<rect x="17" y="739" width="2" height="63"/>
<rect x="24" y="791" width="2" height="11"/>
<rect x="31" y="799" width="2" height="3"/>
<rect x="38" y="790" width="2" height="12"/>
<rect x="45" y="793" width="2" height="9"/>
<rect x="52" y="797" width="2" height="5"/>
<rect x="60" y="797" width="2" height="5"/>
<rect x="67" y="796" width="2" height="6"/>
<rect x="74" y="801" width="2" height="1"/>
<rect x="81" y="799" width="2" height="3"/>
<rect x="88" y="794" width="2" height="8"/>
<rect x="95" y="799" width="2" height="3"/>
<rect x="103" y="796" width="2" height="6"/>
<rect x="110" y="793" width="2" height="9"/>
<rect x="117" y="794" width="2" height="8"/>
<rect x="124" y="787" width="2" height="15"/>
<rect x="131" y="794" width="2" height="8"/>
<rect x="138" y="781" width="2" height="21"/>
<rect x="146" y="791" width="2" height="11"/>
<rect x="153" y="797" width="2" height="5"/>
<rect x="160" y="799" width="2" height="3"/>
<rect x="167" y="799" width="2" height="3"/>
<rect x="174" y="789" width="2" height="13"/>
<rect x="181" y="786" width="2" height="16"/>
<rect x="189" y="795" width="2" height="7"/>
<rect x="196" y="793" width="2" height="9"/>
<rect x="203" y="797" width="2" height="5"/>
<rect x="210" y="796" width="2" height="6"/>
<rect x="217" y="798" width="2" height="4"/>
<rect x="224" y="796" width="2" height="6"/>
<rect x="232" y="794" width="2" height="8"/>
<rect x="239" y="792" width="2" height="10"/>
<rect x="246" y="794" width="2" height="8"/>
<rect x="253" y="797" width="2" height="5"/>
<rect x="260" y="798" width="2" height="4"/>
<rect x="268" y="798" width="2" height="4"/>
<rect x="275" y="799" width="2" height="3"/>
<rect x="282" y="798" width="2" height="4"/>
<rect x="289" y="798" width="2" height="4"/>
<rect x="296" y="787" width="2" height="15"/>
<rect x="303" y="795" width="2" height="7"/>
<rect x="311" y="799" width="2" height="3"/>
<rect x="318" y="793" width="2" height="9"/>
<rect x="325" y="798" width="2" height="4"/>
<rect x="332" y="798" width="2" height="4"/>
<rect x="339" y="796" width="2" height="6"/>
<rect x="346" y="784" width="2" height="18"/>
<rect x="354" y="795" width="2" height="7"/>
<rect x="361" y="791" width="2" height="11"/>
<rect x="368" y="795" width="2" height="7"/>
<rect x="375" y="796" width="2" height="6"/>
<rect x="382" y="798" width="2" height="4"/>
<rect x="389" y="793" width="2" height="9"/>
<rect x="397" y="796" width="2" height="6"/>
<rect x="404" y="738" width="2" height="64"/>
<rect x="411" y="759" width="2" height="43"/>
<rect x="418" y="776" width="2" height="26"/>
<rect x="425" y="786" width="2" height="16"/>
<rect x="432" y="790" width="2" height="12"/>
<rect x="440" y="784" width="2" height="18"/>
<rect x="447" y="789" width="2" height="13"/>
<rect x="454" y="769" width="2" height="33"/>
<rect x="461" y="781" width="2" height="21"/>
<rect x="468" y="786" width="2" height="16"/>
<rect x="475" y="790" width="2" height="12"/>
<rect x="483" y="789" width="2" height="13"/>
<rect x="490" y="792" width="2" height="10"/>
<rect x="497" y="797" width="2" height="5"/>
<rect x="504" y="787" width="2" height="15"/>
<rect x="511" y="798" width="2" height="4"/>
<rect x="518" y="792" width="2" height="10"/>
<rect x="526" y="789" width="2" height="13"/>
<rect x="533" y="787" width="2" height="15"/>
<rect x="540" y="787" width="2" height="15"/>
<rect x="547" y="790" width="2" height="12"/>
<rect x="554" y="747" width="2" height="55"/>
<rect x="561" y="780" width="2" height="22"/>
<rect x="569" y="784" width="2" height="18"/>
<rect x="576" y="794" width="2" height="8"/>
<rect x="583" y="794" width="2" height="8"/>
<rect x="590" y="785" width="2" height="17"/>
<rect x="597" y="796" width="2" height="6"/>
<rect x="604" y="794" width="2" height="8"/>
<rect x="612" y="789" width="2" height="13"/>
<rect x="619" y="784" width="2" height="18"/>
<rect x="626" y="780" width="2" height="22"/>
<rect x="633" y="790" width="2" height="12"/>
<rect x="640" y="796" width="2" height="6"/>
<rect x="647" y="794" width="2" height="8"/>
<rect x="655" y="789" width="2" height="13"/>
<rect x="662" y="789" width="2" height="13"/>
<rect x="669" y="791" width="2" height="11"/>
<rect x="676" y="786" width="2" height="16"/>
<rect x="683" y="794" width="2" height="8"/>
<rect x="690" y="793" width="2" height="9"/>
<rect x="698" y="790" width="2" height="12"/>
<rect x="705" y="790" width="2" height="12"/>
<rect x="712" y="796" width="2" height="6"/>
<rect x="719" y="797" width="2" height="5"/>
<rect x="726" y="791" width="2" height="11"/>
<rect x="733" y="793" width="2" height="9"/>
<rect x="741" y="794" width="2" height="8"/>
<rect x="748" y="795" width="2" height="7"/>
<rect x="755" y="797" width="2" height="5"/>
<rect x="762" y="788" width="2" height="14"/>
<rect x="769" y="796" width="2" height="6"/>
<rect x="776" y="773" width="2" height="29"/>
<rect x="784" y="788" width="2" height="14"/>
<rect x="791" y="793" width="2" height="9"/>
<rect x="798" y="793" width="2" height="9"/>
<rect x="805" y="793" width="2" height="9"/>
<rect x="812" y="798" width="2" height="4"/>
<rect x="819" y="799" width="2" height="3"/>
<rect x="827" y="796" width="2" height="6"/>
<rect x="834" y="798" width="2" height="4"/>
<rect x="841" y="783" width="2" height="19"/>
<rect x="848" y="797" width="2" height="5"/>
<rect x="855" y="792" width="2" height="10"/>
<rect x="862" y="780" width="2" height="22"/>
<rect x="870" y="787" width="2" height="15"/>
<rect x="877" y="751" width="2" height="51"/>
<rect x="884" y="784" width="2" height="18"/>
<rect x="891" y="789" width="2" height="13"/>
<rect x="898" y="789" width="2" height="13"/>
<rect x="905" y="792" width="2" height="10"/>
<rect x="913" y="797" width="2" height="5"/>
<rect x="920" y="794" width="2" height="8"/>
<rect x="927" y="796" width="2" height="6"/>
<rect x="934" y="791" width="2" height="11"/>
<rect x="941" y="797" width="2" height="5"/>
<rect x="948" y="797" width="2" height="5"/>
<rect x="956" y="788" width="2" height="14"/>
<rect x="963" y="792" width="2" height="10"/>
<rect x="970" y="794" width="2" height="8"/>
<rect x="977" y="799" width="2" height="3"/>
<rect x="984" y="795" width="2" height="7"/>
<rect x="991" y="792" width="2" height="10"/>
<rect x="999" y="796" width="2" height="6"/>
<rect x="1006" y="797" width="2" height="5"/>
<rect x="1013" y="798" width="2" height="4"/>
<rect x="1020" y="788" width="2" height="14"/>
<rect x="1027" y="799" width="2" height="3"/>
<rect x="1034" y="796" width="2" height="6"/>
<rect x="1042" y="787" width="2" height="15"/>
<rect x="1049" y="793" width="2" height="9"/>
<rect x="1056" y="793" width="2" height="9"/>
<rect x="1063" y="796" width="2" height="6"/>
<rect x="1070" y="796" width="2" height="6"/>
<rect x="1077" y="799" width="2" height="3"/>
<rect x="1085" y="798" width="2" height="4"/>
<rect x="1092" y="787" width="2" height="15"/>
<rect x="1099" y="792" width="2" height="10"/>
<rect x="1106" y="792" width="2" height="10"/>
<rect x="1113" y="796" width="2" height="6"/>
<rect x="1120" y="796" width="2" height="6"/>
<rect x="1128" y="792" width="2" height="10"/>
<rect x="1135" y="794" width="2" height="8"/>
<rect x="1142" y="797" width="2" height="5"/>
<rect x="1149" y="793" width="2" height="9"/>
<rect x="1156" y="791" width="2" height="11"/>
</g>
<polyline points="0.0,767.6 25.0,770.0 50.0,773.5 75.0,776.7 100.0,779.6 125.0,783.6 150.0,784.9 175.0,788.4 200.0,792.7 215.0,794.8 245.0,796.4 265.0,795.3 295.0,792.9 320.0,791.6 345.0,791.6 370.0,787.9 390.0,787.6 400.0,786.8 430.0,782.8 455.0,777.2 500.0,776.4 530.0,774.8 556.0,770.3 580.0,768.1 605.0,767.1 625.0,765.5 680.0,765.5 700.0,762.8 725.0,760.4 745.0,757.5 770.0,756.9 780.0,756.9 800.0,759.1 830.0,759.6 855.0,762.3 875.0,763.6 892.0,764.9 910.0,763.3 930.0,760.7 960.0,755.6 975.0,754.6 1000.0,749.0 1020.0,748.1 1050.0,747.2 1085.0,747.2 1110.0,742.0 1130.0,739.7 1157.0,738.8" fill="none" stroke="#ff0000" stroke-width="3" stroke-linejoin="round"/>
<text x="266" y="500.5" style="fill:#0000ff" textLength="24" lengthAdjust="spacingAndGlyphs">1600</text>
<text x="407" y="506.7" style="fill:#0000ff" textLength="51.6" lengthAdjust="spacingAndGlyphs">1550-1566</text>
<text x="186.4" y="563" style="fill:#0000ff" textLength="53.8" lengthAdjust="spacingAndGlyphs">1435-1416</text>
<text x="1" y="613" style="fill:#0000ff">0</text>
<g fill="#ff0000" stroke="none"><polygon points="127,438.2 127,445.7 134.5,445.7"/><line x1="129.5" y1="443.2" x2="135" y2="437.7" stroke="#ff0000" stroke-width="2.6"/></g>
<g fill="#ff0000" stroke="none"><polygon points="127,504.4 127,511.9 134.5,511.9"/><line x1="129.5" y1="509.4" x2="135" y2="503.9" stroke="#ff0000" stroke-width="2.6"/></g>
<g shape-rendering="crispEdges" fill="none" stroke="#000" stroke-width="1">
<path d="M0 67.5H1250 M0 146.5H1250 M0 734.5H1250 M0 802.5H1204.5 M0 816.5H1204.5 M1204.5 0V802.5 M24.5 802V816 M60.5 802V816 M96.5 802V816 M132.5 802V816 M168.5 802V816 M203.5 802V816 M239.5 802V816 M275.5 802V816 M311.5 802V816 M347.5 802V816 M383.5 802V816 M419.5 802V816 M447.5 802V816 M476.5 802V816 M512.5 802V816 M540.5 802V816 M576.5 802V816 M612.5 802V816 M648.5 802V816 M684.5 802V816 M720.5 802V816 M748.5 802V816 M784.5 802V816 M820.5 802V816 M856.5 802V816 M892.5 802V816 M927.5 802V816 M963.5 802V816 M999.5 802V816 M1035.5 802V816 M1071.5 802V816 M1107.5 802V816 M1142.5 802V816 M1178.5 802V816 M96.5 802V830 M239.5 802V830 M397.5 802V830 M540.5 802V830 M684.5 802V830 M834.5 802V830 M999.5 802V830 M1150.5 802V830"/>
<path d="M1205 64.5h3 M1205 60.5h3 M1205 56.5h3 M1205 52.5h7 M1205 48.5h3 M1205 44.5h3 M1205 40.5h3 M1205 36.5h3 M1205 32.5h7 M1205 28.5h3 M1205 24.5h3 M1205 21.5h3 M1205 17.5h3 M1205 13.5h7 M1205 9.5h3 M1205 5.5h3 M1205 1.5h3 M1205 142.5h3 M1205 134.5h7 M1205 127.5h3 M1205 120.5h7 M1205 113.5h3 M1205 105.5h7 M1205 98.5h3 M1205 91.5h7 M1205 84.5h3 M1205 76.5h7 M1205 69.5h3 M1205 729.5h3 M1205 723.5h3 M1205 717.5h7 M1205 710.5h3 M1205 704.5h3 M1205 698.5h3 M1205 692.5h3 M1205 686.5h7 M1205 680.5h3 M1205 674.5h3 M1205 668.5h3 M1205 662.5h3 M1205 657.5h7 M1205 651.5h3 M1205 645.5h3 M1205 639.5h3 M1205 634.5h3 M1205 628.5h7 M1205 623.5h3 M1205 617.5h3 M1205 612.5h3 M1205 606.5h3 M1205 601.5h7 M1205 595.5h3 M1205 590.5h3 M1205 585.5h3 M1205 580.5h3 M1205 574.5h7 M1205 569.5h3 M1205 564.5h3 M1205 559.5h3 M1205 554.5h3 M1205 549.5h7 M1205 544.5h3 M1205 539.5h3 M1205 534.5h3 M1205 529.5h3 M1205 524.5h7 M1205 519.5h3 M1205 515.5h3 M1205 510.5h3 M1205 505.5h3 M1205 500.5h7 M1205 496.5h3 M1205 491.5h3 M1205 486.5h3 M1205 482.5h3 M1205 477.5h7 M1205 473.5h3 M1205 468.5h3 M1205 464.5h3 M1205 459.5h3 M1205 455.5h7 M1205 450.5h3 M1205 446.5h3 M1205 442.5h3 M1205 437.5h3 M1205 433.5h7 M1205 429.5h3 M1205 424.5h3 M1205 420.5h3 M1205 416.5h3 M1205 412.5h7 M1205 408.5h3 M1205 403.5h3 M1205 399.5h3 M1205 395.5h3 M1205 391.5h7 M1205 387.5h3 M1205 383.5h3 M1205 379.5h3 M1205 375.5h3 M1205 371.5h7 M1205 367.5h3 M1205 363.5h3 M1205 359.5h3 M1205 355.5h3 M1205 352.5h7 M1205 348.5h3 M1205 344.5h3 M1205 340.5h3 M1205 336.5h3 M1205 333.5h7 M1205 329.5h3 M1205 325.5h3 M1205 321.5h3 M1205 318.5h3 M1205 314.5h7 M1205 310.5h3 M1205 307.5h3 M1205 303.5h3 M1205 299.5h3 M1205 296.5h7 M1205 292.5h3 M1205 289.5h3 M1205 285.5h3 M1205 282.5h3 M1205 278.5h7 M1205 275.5h3 M1205 271.5h3 M1205 268.5h3 M1205 264.5h3 M1205 261.5h7 M1205 257.5h3 M1205 254.5h3 M1205 251.5h3 M1205 247.5h3 M1205 244.5h7 M1205 241.5h3 M1205 237.5h3 M1205 234.5h3 M1205 231.5h3 M1205 227.5h7 M1205 224.5h3 M1205 221.5h3 M1205 218.5h3 M1205 214.5h3 M1205 211.5h7 M1205 208.5h3 M1205 205.5h3 M1205 202.5h3 M1205 199.5h3 M1205 195.5h7 M1205 192.5h3 M1205 189.5h3 M1205 186.5h3 M1205 183.5h3 M1205 180.5h7 M1205 177.5h3 M1205 174.5h3 M1205 171.5h3 M1205 168.5h3 M1205 165.5h7 M1205 162.5h3 M1205 159.5h3 M1205 156.5h3 M1205 153.5h3 M1205 150.5h7 M1205 147.5h3 M1205 787.5h3 M1205 784.5h3 M1205 782.5h3 M1205 779.5h7 M1205 777.5h3 M1205 774.5h3 M1205 772.5h3 M1205 769.5h3 M1205 767.5h7 M1205 764.5h3 M1205 762.5h3 M1205 759.5h3 M1205 756.5h3 M1205 754.5h7 M1205 751.5h3 M1205 749.5h3 M1205 746.5h3 M1205 744.5h3 M1205 741.5h7 M1205 739.5h3 M1205 736.5h3"/>
</g>
<text x="1245" y="16.8" text-anchor="end">50</text>
<text x="1245" y="36.3" text-anchor="end">0</text>
<text x="1245" y="55.8" text-anchor="end">-50</text>
<text x="1245" y="80.5" text-anchor="end">70</text>
<text x="1245" y="95.0" text-anchor="end">60</text>
<text x="1245" y="109.4" text-anchor="end">50</text>
<text x="1245" y="123.9" text-anchor="end">40</text>
<text x="1245" y="138.3" text-anchor="end">30</text>
<text x="1245" y="720.7" text-anchor="end">1200</text>
<text x="1245" y="690.0" text-anchor="end">1250</text>
<text x="1245" y="660.5" text-anchor="end">1300</text>
<text x="1245" y="632.1" text-anchor="end">1350</text>
<text x="1245" y="604.8" text-anchor="end">1400</text>
<text x="1245" y="578.4" text-anchor="end">1450</text>
<text x="1245" y="552.9" text-anchor="end">1500</text>
<text x="1245" y="528.2" text-anchor="end">1550</text>
<text x="1245" y="504.4" text-anchor="end">1600</text>
<text x="1245" y="481.2" text-anchor="end">1650</text>
<text x="1245" y="458.8" text-anchor="end">1700</text>
<text x="1245" y="437.0" text-anchor="end">1750</text>
<text x="1245" y="415.8" text-anchor="end">1800</text>
<text x="1245" y="395.2" text-anchor="end">1850</text>
<text x="1245" y="375.1" text-anchor="end">1900</text>
<text x="1245" y="355.6" text-anchor="end">1950</text>
<text x="1245" y="336.5" text-anchor="end">2000</text>
<text x="1245" y="318.0" text-anchor="end">2050</text>
<text x="1245" y="299.8" text-anchor="end">2100</text>
<text x="1245" y="282.1" text-anchor="end">2150</text>
<text x="1245" y="264.8" text-anchor="end">2200</text>
<text x="1245" y="247.9" text-anchor="end">2250</text>
<text x="1245" y="231.4" text-anchor="end">2300</text>
<text x="1245" y="215.2" text-anchor="end">2350</text>
<text x="1245" y="199.4" text-anchor="end">2400</text>
<text x="1245" y="183.9" text-anchor="end">2450</text>
<text x="1245" y="168.7" text-anchor="end">2500</text>
<text x="1245" y="745.2" text-anchor="end">25000</text>
<text x="1245" y="757.9" text-anchor="end">20000</text>
<text x="1245" y="770.7" text-anchor="end">15000</text>
<text x="1245" y="783.4" text-anchor="end">10000</text>
<clipPath id="dclip"><rect x="0" y="802" width="1204" height="28"/></clipPath><g clip-path="url(#dclip)">
<text x="-10" y="813.5">12</text>
<text x="26" y="813.5">19</text>
<text x="62" y="813.5">26</text>
<text x="98" y="813.5">2</text>
<text x="134" y="813.5">9</text>
<text x="170" y="813.5">16</text>
<text x="205" y="813.5">23</text>
<text x="241" y="813.5">2</text>
<text x="277" y="813.5">9</text>
<text x="313" y="813.5">16</text>
<text x="349" y="813.5">23</text>
<text x="385" y="813.5">30</text>
<text x="421" y="813.5">6</text>
<text x="449" y="813.5">14</text>
<text x="478" y="813.5">20</text>
<text x="514" y="813.5">27</text>
<text x="542" y="813.5">4</text>
<text x="578" y="813.5">11</text>
<text x="614" y="813.5">18</text>
<text x="650" y="813.5">25</text>
<text x="686" y="813.5">1</text>
<text x="722" y="813.5">8</text>
<text x="750" y="813.5">15</text>
<text x="786" y="813.5">22</text>
<text x="822" y="813.5">29</text>
<text x="858" y="813.5">6</text>
<text x="894" y="813.5">13</text>
<text x="929" y="813.5">20</text>
<text x="965" y="813.5">27</text>
<text x="1001" y="813.5">3</text>
<text x="1037" y="813.5">10</text>
<text x="1073" y="813.5">17</text>
<text x="1109" y="813.5">24</text>
<text x="1144" y="813.5">31</text>
<text x="1180" y="813.5">7</text>
<text x="98" y="827.5">February</text>
<text x="241" y="827.5">March</text>
<text x="399" y="827.5">April</text>
<text x="542" y="827.5">May</text>
<text x="686" y="827.5">June</text>
<text x="836" y="827.5">July</text>
<text x="1001" y="827.5">August</text>
<text x="1152" y="827.5">September</text>
</g>
<path d="M1205 790.5H1237.5M1236.5 790.5V802M1206.5 791V802" stroke="#000" stroke-width="1" fill="none" shape-rendering="crispEdges"/>
<text x="1207" y="799" style="font-size:8px" textLength="27" lengthAdjust="spacingAndGlyphs">x 10000</text>
<text x="1245" y="798.5" text-anchor="end">0</text>
</svg></body></html>
